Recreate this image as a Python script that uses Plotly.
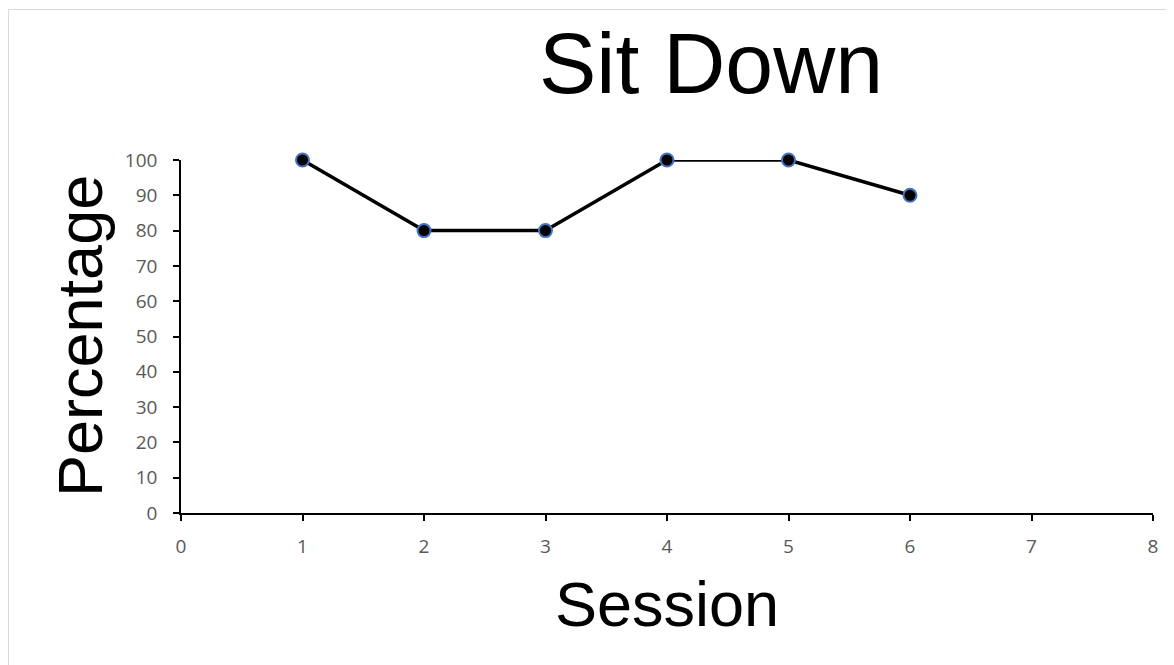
import plotly.graph_objects as go

sessions = [1, 2, 3, 4, 5, 6]
percentages = [100, 80, 80, 100, 100, 90]
x_ticks = [0, 1, 2, 3, 4, 5, 6, 7, 8]
y_ticks = [0, 10, 20, 30, 40, 50, 60, 70, 80, 90, 100]

# page has an 8px body margin; work in page pixels and convert
OFF = 8
W, H = 1166, 657
L, T = 181 - OFF, 160 - OFF
R = W - (1153 - OFF)
B = H - (513 - OFF)
PW, PH = W - L - R, H - T - B

def px(x):
    return (x - OFF - L) / PW

def py(y):
    return (H - B - (y - OFF)) / PH

fig = go.Figure()
fig.add_trace(go.Scatter(
    x=sessions, y=percentages, mode="lines+markers",
    line=dict(color="#000000", width=3.5),
    marker=dict(size=13, color="#000000", line=dict(color="#4472C4", width=2)),
    cliponaxis=False, showlegend=False,
))

tickfont = dict(family="Open Sans, Lato, sans-serif", size=19, color="#595959")
fig.update_xaxes(
    range=[0, 8], tickvals=x_ticks, ticktext=[str(v) for v in x_ticks],
    showgrid=False, zeroline=False, showline=True, linecolor="#000000", linewidth=1.5,
    ticks="outside", ticklen=6, tickwidth=1.5, tickcolor="#000000",
    tickfont=tickfont, ticklabelstandoff=9,
)
fig.update_yaxes(
    range=[0, 100], tickvals=y_ticks, ticktext=[str(v) for v in y_ticks],
    showgrid=False, zeroline=False, showline=True, linecolor="#000000", linewidth=1.5,
    ticks="outside", ticklen=6, tickwidth=1.5, tickcolor="#000000",
    tickfont=tickfont, ticklabelstandoff=12,
)

annos = [
    dict(text="Sit Down", x=px(711), y=py(63), size=86),
    dict(text="Session", x=px(667), y=py(604), size=63),
    dict(text="Percentage", x=px(80), y=py(336), size=63, angle=-90),
]
for a in annos:
    fig.add_annotation(
        text=a["text"], x=a["x"], y=a["y"], xref="paper", yref="paper",
        xanchor="center", yanchor="middle", showarrow=False,
        textangle=a.get("angle", 0),
        font=dict(family="Liberation Sans, Arial, sans-serif", size=a["size"], color="#000000"),
    )

fig.add_shape(type="rect", xref="paper", yref="paper",
              x0=px(8.5), y0=py(700), x1=px(1200), y1=py(9.5),
              line=dict(color="#D9D9D9", width=1), fillcolor="rgba(0,0,0,0)", layer="below")

fig.update_layout(
    width=W, height=H,
    margin=dict(l=L, r=R, t=T, b=B),
    paper_bgcolor="#FFFFFF", plot_bgcolor="#FFFFFF",
)

fig.write_html("out.html")
